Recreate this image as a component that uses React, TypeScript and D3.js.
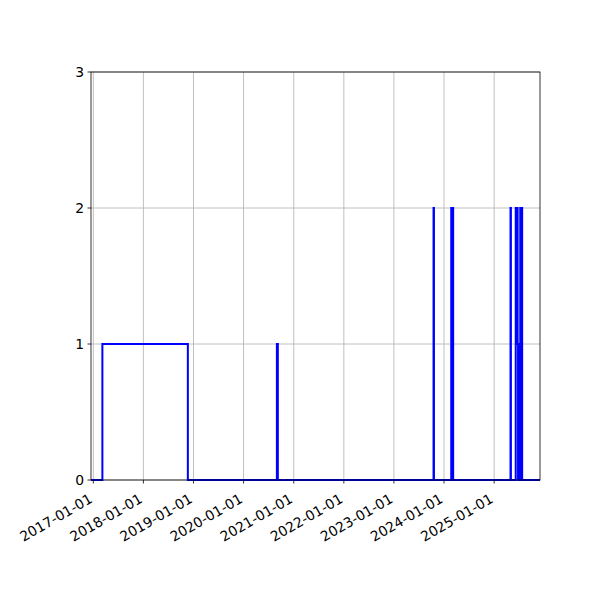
import * as d3 from "d3";
import React from "react";

// step changes: the value holds from each date until the next one
const changeDates = [
  "2016-12-15", "2017-03-08", "2018-11-21",
  "2020-08-31", "2020-09-07",
  "2023-10-17", "2023-10-20",
  "2024-02-23", "2024-03-08",
  "2025-04-30", "2025-05-03",
  "2025-06-07", "2025-06-21", "2025-06-24", "2025-06-27", "2025-07-01",
  "2025-07-04", "2025-07-08", "2025-07-10", "2025-07-24",
  "2025-12-01",
];
const levels = [
  0, 1, 0,
  1, 0,
  2, 0,
  2, 0,
  2, 0,
  2, 1, 0, 1, 0,
  1, 0, 2, 0,
  0,
];

const xStart = "2016-12-15";
const xEnd = "2025-12-01";
const xTickLabels = [
  "2017-01-01", "2018-01-01", "2019-01-01", "2020-01-01",
  "2021-01-01", "2022-01-01", "2023-01-01", "2024-01-01", "2025-01-01",
];
const yTicks = [0, 1, 2, 3];

export default function App() {
  const margin = { top: 72, right: 60, bottom: 120, left: 91 };
  const width = 600 - margin.left - margin.right;
  const height = 600 - margin.top - margin.bottom;
  const font = "'DejaVu Sans', sans-serif";

  const parse = d3.utcParse("%Y-%m-%d");
  const points = changeDates.map((d, i) => ({ date: parse(d) as Date, value: levels[i] }));

  const x = d3
    .scaleUtc()
    .domain([parse(xStart) as Date, parse(xEnd) as Date])
    .range([0, width]);
  const y = d3.scaleLinear().domain([0, 3]).range([height, 0]);

  const line = d3
    .line<{ date: Date; value: number }>()
    .x((d) => x(d.date))
    .y((d) => y(d.value))
    .curve(d3.curveStepAfter);

  const xTicks = xTickLabels.map((t) => ({ label: t, pos: x(parse(t) as Date) }));

  return (
    <svg
      width={600}
      height={600}
      style={{ position: "absolute", left: 0, top: 0, background: "#fff" }}
    >
      <g transform={`translate(${margin.left}, ${margin.top})`}>
        {/* grid */}
        {xTicks.map((t) => (
          <line key={`gx-${t.label}`} x1={t.pos} x2={t.pos} y1={0} y2={height} stroke="#b0b0b0" strokeWidth={0.8} />
        ))}
        {yTicks.map((v) => (
          <line key={`gy-${v}`} x1={0} x2={width} y1={y(v)} y2={y(v)} stroke="#b0b0b0" strokeWidth={0.8} />
        ))}

        <path d={line(points) || ""} fill="none" stroke="#0000ff" strokeWidth={2} />

        {/* spines */}
        <rect x={0} y={0} width={width} height={height} fill="none" stroke="#000" strokeWidth={0.8} />

        {/* y axis */}
        {yTicks.map((v) => (
          <g key={`yt-${v}`} transform={`translate(0, ${y(v)})`}>
            <line x1={-3.5} x2={0} stroke="#000" strokeWidth={0.8} />
            <text x={-7} dy="0.36em" textAnchor="end" fontSize={13.9} fontFamily={font} fill="#000">
              {v}
            </text>
          </g>
        ))}

        {/* x axis */}
        {xTicks.map((t) => (
          <g key={`xt-${t.label}`} transform={`translate(${t.pos}, ${height})`}>
            <line y1={0} y2={3.5} stroke="#000" strokeWidth={0.8} />
            <text
              transform="translate(-5, 13) rotate(-30)"
              dy="0.72em"
              textAnchor="end"
              fontSize={13.9}
              fontFamily={font}
              fill="#000"
            >
              {t.label}
            </text>
          </g>
        ))}
      </g>
    </svg>
  );
}
